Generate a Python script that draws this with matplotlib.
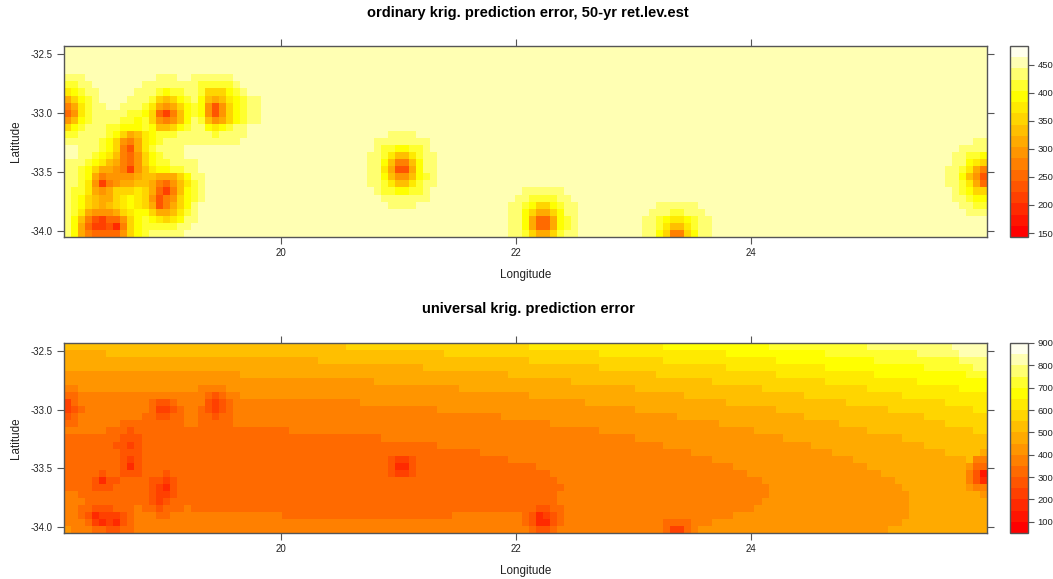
from matplotlib import pyplot as plt
from matplotlib.colors import BoundaryNorm, ListedColormap, hsv_to_rgb
import numpy as np

plt.rcParams['font.family'] = ['Liberation Sans', 'DejaVu Sans']

W, H = 1053, 579
N_ROWS, N_COLS = 27, 131

lon_start, lat_start, cell = 18.15, -32.43, 0.06

top_levels = np.arange(143, 484, 20)
bottom_levels = np.arange(50, 901, 50)
top_cticks = [150, 200, 250, 300, 350, 400, 450]
bottom_cticks = [100, 200, 300, 400, 500, 600, 700, 800, 900]
lon_ticks = [20, 22, 24]
lat_ticks = [-32.5, -33.0, -33.5, -34.0]

# cell readings are band numbers, 0 = lowest band ... g = highest (base 17)
top_left = [
    "", "", "", "",
    "eeefffffff fffeeeffee eeeefffff",
    "ddeeffffff feeeeeeeed ddddeffff",
    "bcdeefffff eeedcddeed aaacdefff",
    "8acdeffffe eeda9acdec 989bcdeef",
    "68bdeeffee edb878acdc 747acdeef",
    "57bdeeeeed dca5369cdc 747acdeef",
    "79cdeeeedd cda7679ced 978acdeef",
    "acdeeeddcc cdc99acdee cbcdeefff",
    "ddeeeedca8 9bcdddeeee edeeeefff",
    "eeeeedca76 8bcdeeeeee eeeeeffff",
    "ffeeedca64 8bdeeeefff",
    "ffeedcb965 7acdeeefff",
    "eeedcb9865 7acddeeeef",
    "eedca88763 79bccddeef",
    "eedc867777 899888acee",
    "eedb736788 9986579bde",
    "eddb878aaa ba85369cde",
    "edca988abc ba7467acde",
    "edca989abc ba8468acef",
    "edb87778ab cca889bdef",
    "ec9643557a cdcbabceef",
    "ec8533426a cdddddeeff",
    "ec8655557a cdeeeeefff",
]
top_blob_21 = [
    "...eeee...",
    ".eeeeeeee.",
    ".eddccdde.",
    "eedb99bdee",
    "eec9669cee",
    "eeb8448cee",
    "eec9779cde",
    "eedb99bdee",
    ".eddccdde.",
    "..eeeeeee.",
    "...eeee...",
]
top_blob_22 = [
    "..eeeeee..",
    ".eeddddee.",
    "eedcaacdee",
    "eeca88acee",
    "eec8558cde",
    "eec8558cde",
    "eeda88adee",
]
top_blob_23 = [
    "..eeeeee..",
    ".eeeddeee.",
    "eedcbbcdee",
    "eedb99bdee",
    "eeca66acee",
]
top_blob_26 = [
    "....ee",
    "..eeee",
    ".eeddc",
    ".eecba",
    "eedb86",
    "eec974",
    "eedb85",
    ".edcaa",
    ".eedcc",
    "..eedd",
    "...eee",
]

# first column of each band per row, bottom panel (131 = band never reached)
from_band_6 = [0]*11 + [0, 32, 45, 53, 59, 63, 67, 69, 70, 71, 70, 70, 70, 55, 0, 0]
from_band_7 = [0]*7 + [25, 42, 53, 62, 69, 76, 81, 85, 89, 92, 95, 97, 99, 100, 100, 99, 98, 95, 92, 90]
from_band_8 = [0, 0, 0, 0, 25, 44, 56, 66, 74, 81, 87, 93, 98, 102, 106, 109, 112, 114, 116, 118, 119, 120, 120, 120, 120, 119, 117]
from_band_9 = [0, 6, 36, 51, 63, 72, 81, 88, 94, 101, 105, 110, 114, 119, 122, 125, 128] + [131]*10
from_band_10 = [40, 54, 66, 76, 84, 92, 99, 105, 111, 117, 122, 125, 129] + [131]*14
from_band_11 = [66, 76, 85, 94, 101, 108, 114, 119, 125, 129] + [131]*17
from_band_12 = [85, 94, 101, 108, 115, 121, 127] + [131]*20
from_band_13 = [100, 108, 115, 122, 128] + [131]*22
from_band_14 = [114, 121, 127, 129] + [131]*23
from_band_15 = [126, 127] + [131]*25

bottom_left = [
    "", "", "", "", "", "",
    "66........ .........6 666",
    "55........ .......... 545",
    "35........ ..5445.... 4345",
    "345....... ..53345665 4345",
    "45........ .554455..5 5455",
    "55......55 5555555..5 5555",
    "666666...4",
    "........44 4",
    ".......443 4",
    "........44 4",
    "........43 4",
    "........42 4",
    ".....4..44 4...4",
    "....4244.. ..4434",
    "....444... ..4324",
    "66........ ..4334",
    "666....... ..4345",
    "66..444... 6..4...6",
    "66.423334. 666..66666 66666666666",
    "...5323245",
    "7...554455",
]
bottom_blob_21 = ["4334", "4224", "4334"]
bottom_blob_22 = ["..4455", "542345", "542245", ".5445."]
bottom_blob_23 = ["5555", "5335"]
bottom_blob_26 = ["..8", ".66", "755", "641", "642", "766", "..7"]


def paste(grid, rows, row0, col0):
    for r, text in enumerate(rows):
        for c, ch in enumerate(text.replace(" ", "")):
            if ch != ".":
                grid[row0 + r, col0 + c] = int(ch, 17)


def heat_colors(n):
    # like R heat.colors, pale end set by eye from the colour key
    j = n // 4
    i = n - j
    reds = [hsv_to_rgb((h, 1, 1)) for h in np.linspace(0, 1/6, i)]
    pale = [hsv_to_rgb((1/6, s, 1)) for s in [0.82, 0.56, 0.3, 0.07]]
    return reds + pale


top_bands = np.full((N_ROWS, N_COLS), 15)
paste(top_bands, top_left, 0, 0)
paste(top_bands, top_blob_21, 12, 43)
paste(top_bands, top_blob_22, 20, 63)
paste(top_bands, top_blob_23, 22, 82)
paste(top_bands, top_blob_26, 13, 125)

columns = np.arange(N_COLS)
bottom_bands = np.full((N_ROWS, N_COLS), 5)
for edges in [from_band_6, from_band_7, from_band_8, from_band_9, from_band_10,
              from_band_11, from_band_12, from_band_13, from_band_14, from_band_15]:
    bottom_bands += columns[None, :] >= np.array(edges)[:, None]
paste(bottom_bands, bottom_left, 0, 0)
paste(bottom_bands, bottom_blob_21, 16, 46)
paste(bottom_bands, bottom_blob_22, 23, 65)
paste(bottom_bands, bottom_blob_23, 25, 85)
paste(bottom_bands, bottom_blob_26, 15, 128)

top_z = top_levels[top_bands] + 10
bottom_z = bottom_levels[bottom_bands] + 25

lon_edges = lon_start + cell*np.arange(N_COLS + 1)
lat_edges = lat_start - cell*np.arange(N_ROWS + 1)
cmap = ListedColormap(heat_colors(17))
frame = '#555555'
txt = '#222222'

fig = plt.figure(figsize=(W/100, H/100), dpi=100)


def panel(z, levels, cticks, y0, y1, title, title_y, label_y):
    ax = fig.add_axes([64/W, 1 - y1/H, 923/W, (y1 - y0)/H])
    norm = BoundaryNorm(levels, cmap.N)
    mesh = ax.pcolormesh(lon_edges, lat_edges, z, cmap=cmap, norm=norm, shading='flat')
    ax.set_xlim(lon_edges[0], lon_edges[-1])
    ax.set_ylim(lat_edges[-1], lat_edges[0])
    ax.set_xticks(lon_ticks)
    ax.set_yticks(lat_ticks)
    ax.set_yticklabels(['%.1f' % v for v in lat_ticks])
    ax.tick_params(direction='out', length=5, width=0.8, color=frame, labelcolor=txt,
                   labelsize=7.0, top=True, right=True, pad=3)
    for s in ax.spines.values():
        s.set_color(frame)
        s.set_linewidth(1.0)
    fig.text(526/W, 1 - label_y/H, 'Longitude', ha='center', va='center', fontsize=8.4, color=txt)
    fig.text(16.5/W, 1 - (y0 + y1)/2/H, 'Latitude', ha='center', va='center', rotation=90,
             fontsize=8.4, color=txt)
    fig.text(528/W, 1 - title_y/H, title, ha='center', va='center', fontsize=10.5,
             fontweight='bold', color='black')

    cax = fig.add_axes([1010/W, 1 - y1/H, 18/W, (y1 - y0)/H])
    bar = fig.colorbar(mesh, cax=cax, ticks=cticks)
    bar.ax.tick_params(direction='out', length=4, width=0.8, color=frame, labelcolor=txt,
                       labelsize=6.8, pad=3)
    bar.ax.minorticks_off()
    bar.outline.set_edgecolor(frame)
    bar.outline.set_linewidth(1.0)


panel(top_z, top_levels, top_cticks, 46, 237,
      'ordinary krig. prediction error, 50-yr ret.lev.est', 13.5, 275)
panel(bottom_z, bottom_levels, bottom_cticks, 343, 533,
      'universal krig. prediction error', 309.5, 571)

plt.savefig("out.png", dpi=100)
plt.close()
